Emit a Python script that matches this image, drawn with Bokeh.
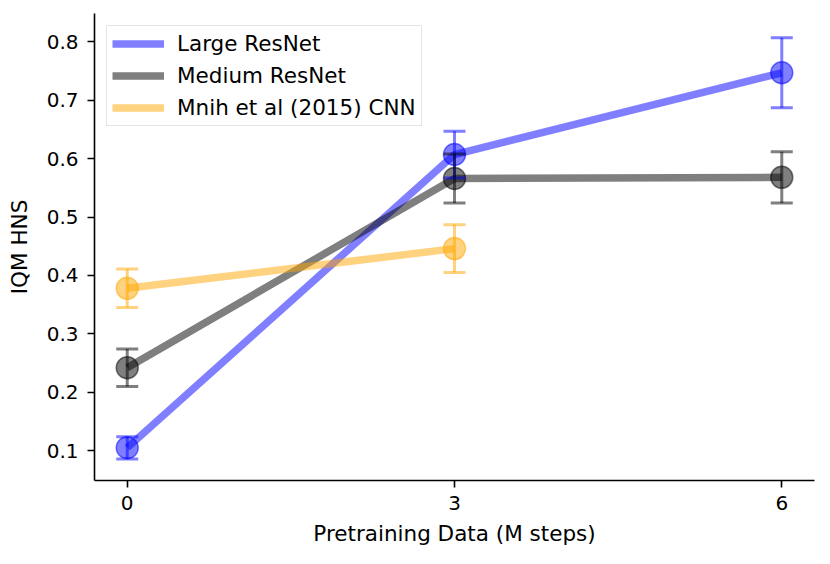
from bokeh.plotting import figure
from bokeh.models import ColumnDataSource, Whisker, TeeHead, FixedTicker, Range1d
from bokeh.embed import file_html
from bokeh.resources import INLINE

# ---- data ----
steps = [0, 3, 6]
large_vals = [0.105, 0.607, 0.747]
large_err = [0.019, 0.040, 0.060]
medium_vals = [0.242, 0.566, 0.568]
medium_err = [0.032, 0.042, 0.044]
mnih_steps = [0, 3]
mnih_vals = [0.378, 0.446]
mnih_err = [0.033, 0.041]
x_ticks = [0, 3, 6]
y_ticks = [0.1, 0.2, 0.3, 0.4, 0.5, 0.6, 0.7, 0.8]

series = [
    ("Large ResNet", steps, large_vals, large_err, "blue"),
    ("Medium ResNet", steps, medium_vals, medium_err, "black"),
    ("Mnih et al (2015) CNN", mnih_steps, mnih_vals, mnih_err, "orange"),
]

FONT = "DejaVu Sans"

p = figure(width=822, height=548, output_backend="svg", toolbar_location=None,
           x_range=Range1d(-0.3, 6.3), y_range=Range1d(0.049, 0.8485),
           min_border_left=94, min_border_right=8, min_border_top=13,
           min_border_bottom=65)
p.outline_line_color = None
p.xgrid.visible = False
p.ygrid.visible = False
p.background_fill_color = "white"

for name, xs, ys, errs, color in series:
    src = ColumnDataSource(dict(
        x=xs, y=ys,
        upper=[v + e for v, e in zip(ys, errs)],
        lower=[v - e for v, e in zip(ys, errs)],
    ))
    p.line("x", "y", source=src, line_color=color, line_alpha=0.5,
           line_width=7.5, legend_label=name)
    p.scatter("x", "y", source=src, size=22, fill_color=color, fill_alpha=0.5,
              line_color=color, line_alpha=0.5, line_width=1.5)
    w = Whisker(source=src, base="x", upper="upper", lower="lower",
                line_color=color, line_alpha=0.5, line_width=3,
                upper_head=TeeHead(size=22, line_color=color, line_alpha=0.5, line_width=3),
                lower_head=TeeHead(size=22, line_color=color, line_alpha=0.5, line_width=3))
    w.level = "glyph"
    p.add_layout(w)

for ax in (p.xaxis[0], p.yaxis[0]):
    ax.axis_line_width = 1.6
    ax.axis_line_color = "black"
    ax.major_tick_line_width = 1.6
    ax.major_tick_out = 7
    ax.major_tick_in = 0
    ax.minor_tick_line_color = None
    ax.major_label_text_font = FONT
    ax.major_label_text_font_size = "20px"
    ax.major_label_text_color = "black"
    ax.axis_label_text_font = FONT
    ax.axis_label_text_font_size = "21.5px"
    ax.axis_label_text_font_style = "normal"
    ax.axis_label_text_color = "black"

p.xaxis.ticker = FixedTicker(ticks=x_ticks)
p.yaxis.ticker = FixedTicker(ticks=y_ticks)
p.xaxis.axis_label = "Pretraining Data (M steps)"
p.yaxis.axis_label = "IQM HNS"
p.xaxis.major_label_standoff = 8
p.yaxis.major_label_standoff = 9
p.xaxis.axis_label_standoff = 8
p.yaxis.axis_label_standoff = 12

lg = p.legend[0]
lg.location = "top_left"
lg.margin = 12
lg.padding = 5
lg.spacing = 7
lg.glyph_width = 52
lg.glyph_height = 25
lg.label_height = 25
lg.label_standoff = 13
lg.label_text_font = FONT
lg.label_text_font_size = "21.5px"
lg.label_text_color = "black"
lg.border_line_color = "#cccccc"
lg.border_line_width = 1.5
lg.background_fill_alpha = 0.8

open("out.html", "w").write(file_html(p, INLINE))
